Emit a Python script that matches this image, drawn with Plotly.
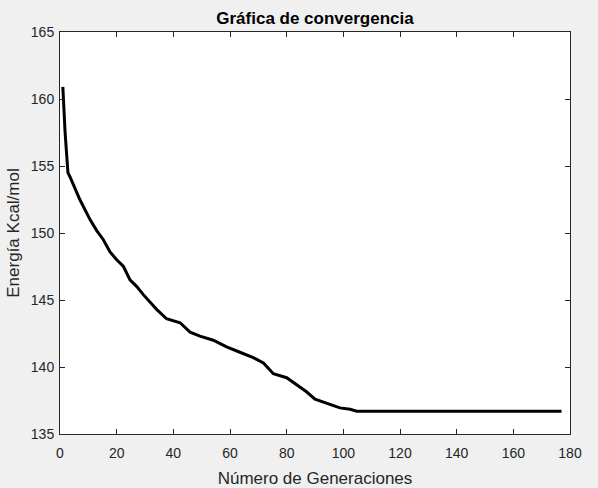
import plotly.graph_objects as go

generations = [1, 1.0, 1.2, 1.8, 2.4, 2.8, 3.5, 5, 7, 10.6, 12.9, 15.3, 17.6, 20, 22.4, 24.7, 27.1,
               29.4, 31.8, 34.1, 37.6, 42.4, 45.9, 49.4, 54.1, 58.8, 63.5, 68.2, 71.8, 75.3,
               80, 84.1, 87, 90, 94.1, 98.8, 102.4, 104.7, 120, 140, 160, 177]
energy = [160.9, 160.9, 159.7, 157.5, 155.7, 154.5, 154.2, 153.5, 152.5, 151.0, 150.2, 149.5, 148.6,
          148.0, 147.5, 146.5, 146.0, 145.4, 144.8, 144.3, 143.6, 143.3, 142.6, 142.3, 142.0,
          141.5, 141.1, 140.7, 140.3, 139.5, 139.2, 138.55, 138.15, 137.6, 137.3, 136.95, 136.85,
          136.7, 136.7, 136.7, 136.7, 136.7]

x_ticks = [0, 20, 40, 60, 80, 100, 120, 140, 160, 180]
y_ticks = [135, 140, 145, 150, 155, 160, 165]

font_color = "#262626"
FONT = "Liberation Sans, Arial"

fig = go.Figure()
fig.add_trace(go.Scatter(x=generations, y=energy, mode="lines",
                         line=dict(color="black", width=3), showlegend=False))

axis_common = dict(showline=True, linecolor=font_color, linewidth=1, mirror="ticks",
                   ticks="inside", ticklen=5, tickcolor=font_color, showgrid=False,
                   zeroline=False, automargin=False,
                   tickfont=dict(family=FONT, size=14, color=font_color))

fig.update_layout(
    width=598, height=488,
    paper_bgcolor="#f0f0f0", plot_bgcolor="white",
    margin=dict(l=60, r=28, t=32, b=54),
    title=dict(text="<b>Gráfica de convergencia</b>", x=(60 + 255) / 598, xanchor="center",
               y=1 - 18 / 488, yanchor="middle",
               font=dict(family=FONT, size=17, color="black")),
    xaxis=dict(range=[0, 180], tickvals=x_ticks, ticklabelstandoff=6,
               title=dict(text="Número de Generaciones", standoff=15,
                          font=dict(family=FONT, size=17, color=font_color)),
               **axis_common),
    yaxis=dict(range=[135, 165], tickvals=y_ticks, ticklabelstandoff=2,
               title=dict(text="Energía Kcal/mol", standoff=6,
                          font=dict(family=FONT, size=17, color=font_color)),
               **axis_common),
)

fig.write_html("out.html", post_script="document.body.style.margin='0';",
               config={"displayModeBar": False})
